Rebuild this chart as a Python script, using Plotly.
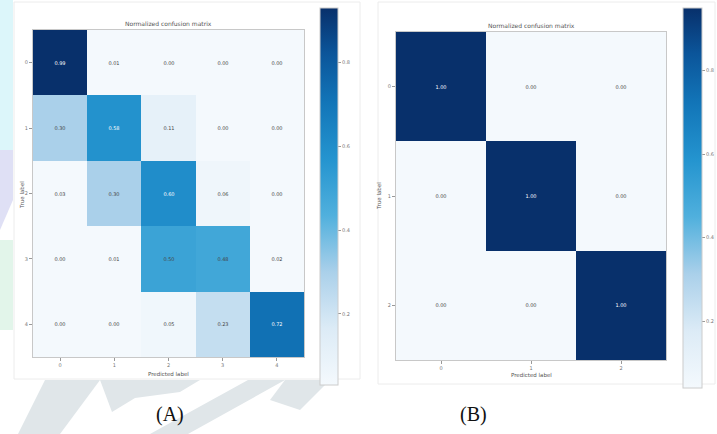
import plotly.graph_objects as go

W, H = 717, 434

# ---------------- data ----------------
labels_A = ["0", "1", "2", "3", "4"]
cm_A = [
    [0.99, 0.01, 0.00, 0.00, 0.00],
    [0.30, 0.58, 0.11, 0.00, 0.00],
    [0.03, 0.30, 0.60, 0.06, 0.00],
    [0.00, 0.01, 0.50, 0.48, 0.02],
    [0.00, 0.00, 0.05, 0.23, 0.72],
]
labels_B = ["0", "1", "2"]
cm_B = [
    [1.00, 0.00, 0.00],
    [0.00, 1.00, 0.00],
    [0.00, 0.00, 1.00],
]
cbar_ticks = [0.2, 0.4, 0.6, 0.8]
panel_labels = ["(A)", "(B)"]
title_text = "Normalized confusion matrix"

blues = [
    [0.00, "#f4f9fd"],
    [0.15, "#dcebf6"],
    [0.30, "#aad0ea"],
    [0.45, "#50b0dd"],
    [0.60, "#2494cf"],
    [0.75, "#1275b8"],
    [0.88, "#0b559a"],
    [1.00, "#08306b"],
]


def px(x):
    return x / W


def py(y):
    return 1 - y / H


fig = go.Figure()

fig.add_trace(go.Heatmap(
    z=cm_A, x=labels_A, y=labels_A, colorscale=blues, zmin=0.03, zmax=0.93,
    texttemplate="%{z:.2f}", textfont=dict(size=5, family="DejaVu Sans"),
    xaxis="x", yaxis="y", xgap=0, ygap=0, hoverinfo="skip",
    colorbar=dict(x=px(320), xanchor="left", y=py(196.5), yanchor="middle",
                  lenmode="pixels", len=377, thickness=18, ypad=0, xpad=0,
                  tickvals=cbar_ticks, ticktext=[f"{t:.1f}" for t in cbar_ticks],
                  ticks="outside", ticklen=3, tickcolor="#999",
                  tickfont=dict(size=5, color="#777"),
                  outlinewidth=1, outlinecolor="#cccccc"),
))
fig.add_trace(go.Heatmap(
    z=cm_B, x=labels_B, y=labels_B, colorscale=blues, zmin=0.04, zmax=0.95,
    texttemplate="%{z:.2f}", textfont=dict(size=5, family="DejaVu Sans"),
    xaxis="x2", yaxis="y2", hoverinfo="skip",
    colorbar=dict(x=px(683), xanchor="left", y=py(198), yanchor="middle",
                  lenmode="pixels", len=380, thickness=19, ypad=0, xpad=0,
                  tickvals=cbar_ticks, ticktext=[f"{t:.1f}" for t in cbar_ticks],
                  ticks="outside", ticklen=3, tickcolor="#999",
                  tickfont=dict(size=5, color="#777"),
                  outlinewidth=1, outlinecolor="#cccccc"),
))

axis_common = dict(showline=True, linecolor="#c8c8c8", linewidth=1, mirror=True,
                   ticks="outside", ticklen=3, tickcolor="#999",
                   tickfont=dict(size=5, color="#777"), showgrid=False,
                   zeroline=False, type="category", fixedrange=True)

fig.update_layout(
    width=W, height=H, margin=dict(l=0, r=0, t=0, b=0),
    paper_bgcolor="white", plot_bgcolor="rgba(0,0,0,0)",
    font=dict(family="DejaVu Sans"),
    xaxis=dict(domain=[px(33), px(304)], anchor="y", **axis_common),
    yaxis=dict(domain=[py(357), py(30)], anchor="x", autorange="reversed", **axis_common),
    xaxis2=dict(domain=[px(396), px(666)], anchor="y2", **axis_common),
    yaxis2=dict(domain=[py(360), py(32)], anchor="x2", autorange="reversed", **axis_common),
)

ann = []
def add_text(x, y, text, size, color="#555", angle=0, family="DejaVu Sans"):
    ann.append(dict(x=px(x), y=py(y), xref="paper", yref="paper", text=text,
                    showarrow=False, textangle=angle, xanchor="center", yanchor="middle",
                    font=dict(size=size, color=color, family=family)))

add_text(168, 24, title_text, 6)
add_text(168, 374, "Predicted label", 5.5)
add_text(22, 195, "True label", 5.5, angle=-90)
add_text(531, 25, title_text, 6)
add_text(531, 375, "Predicted label", 5.5)
add_text(379, 196, "True label", 5.5, angle=-90)
add_text(170, 414, panel_labels[0], 20, color="#111", family="Liberation Serif")
add_text(473, 414, panel_labels[1], 20, color="#111", family="Liberation Serif")
fig.update_layout(annotations=ann)

# faint background watermark and panel frames (decoration)
def poly(points, color):
    d = "M " + " L ".join(f"{px(a):.4f},{py(b):.4f}" for a, b in points) + " Z"
    return dict(type="path", path=d, xref="paper", yref="paper", layer="below",
                fillcolor=color, line=dict(width=0))

shapes = [
    poly([(0, 0), (13, 0), (13, 150), (0, 150)], "#dcf6fa"),
    poly([(0, 150), (13, 150), (13, 200), (0, 230)], "#dfe0f5"),
    poly([(0, 240), (13, 240), (13, 330), (0, 330)], "#e2f5ea"),
    poly([(18, 434), (60, 434), (100, 380), (45, 380)], "#e0e6e9"),
    poly([(100, 380), (200, 380), (180, 392), (135, 398), (112, 412)], "#e0e6e9"),
    poly([(150, 434), (188, 434), (285, 380), (248, 380)], "#e0e6e9"),
    poly([(285, 380), (330, 380), (300, 410), (270, 400)], "#e0e6e9"),
    dict(type="rect", xref="paper", yref="paper", x0=px(14), x1=px(360), y0=py(379), y1=py(2),
         line=dict(color="#ececec", width=1), layer="below"),
    dict(type="rect", xref="paper", yref="paper", x0=px(378), x1=px(715), y0=py(384), y1=py(2),
         line=dict(color="#ececec", width=1), layer="below"),
]
fig.update_layout(shapes=shapes)

fig.write_html("out.html", config={"displayModeBar": False},
               post_script="document.body.style.margin='0';document.body.style.overflow='hidden';")
